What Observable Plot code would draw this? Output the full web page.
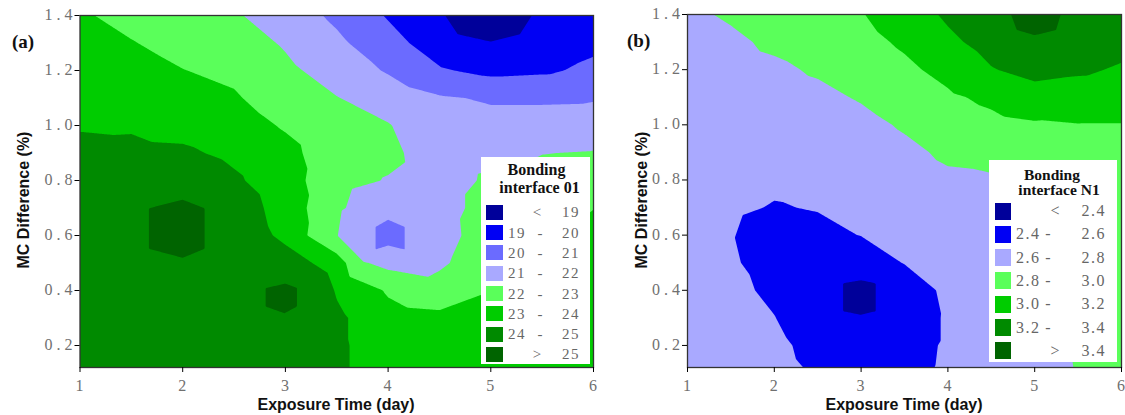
<!DOCTYPE html>
<html>
<head>
<meta charset="utf-8">
<script src="https://cdn.jsdelivr.net/npm/d3@7"></script>
<script src="https://cdn.jsdelivr.net/npm/@observablehq/plot@0.6"></script>
<style>
  html, body { margin: 0; padding: 0; background: #fff; }
  body { width: 1125px; height: 415px; position: relative; overflow: hidden; font-family: "Liberation Sans", Arial, sans-serif; }
  .panel { position: absolute; top: 0; }
  .ytitle { position: absolute; width: 220px; height: 20px; line-height: 20px; text-align: center; font-weight: bold; font-size: 16px; color: #111; transform: rotate(-90deg); }
  .xtitle { position: absolute; width: 260px; height: 18px; line-height: 18px; text-align: center; font-weight: bold; font-size: 16px; color: #111; }
  .plabel { position: absolute; font-family: "Liberation Serif", serif; font-weight: bold; font-size: 19px; color: #111; }
  .tick { position: absolute; height: 18px; line-height: 18px; font-family: "Liberation Serif", serif; font-size: 16px; color: #707070; white-space: nowrap; }
  .legend { position: absolute; background: #fff; font-family: "Liberation Serif", serif; }
  .legend .t { position: absolute; left: 0; width: 100%; text-align: center; font-weight: bold; color: #111; }
  .legend .sw { position: absolute; }
  .legend .v { position: absolute; color: #666; line-height: 18px; white-space: nowrap; }
</style>
</head>
<body>
<div id="pa" class="panel" style="left:0px"></div>
<div id="pb" class="panel" style="left:600px"></div>
<script>
// ---------- data ----------
const exposureDays = [1, 1.5, 2, 2.5, 3, 3.5, 4, 4.5, 5, 5.5, 6];
const mcDifference = [1.4, 1.3, 1.2, 1.1, 1.0, 0.9, 0.8, 0.7, 0.6, 0.5, 0.4, 0.3, 0.2, 0.1];

// Bonding interface 01 (rows follow mcDifference, columns follow exposureDays)
const strength01 = [
  [23.1, 22.75, 22.45, 22.1, 21.55, 20.8, 19.92, 19.05, 18.6, 19.1, 19.4],
  [23.3, 23.04, 22.72, 22.45, 21.9, 21.2, 20.35, 19.5, 19.02, 19.5, 19.8],
  [23.5, 23.33, 23.02, 22.8, 22.2, 21.6, 20.9, 20.1, 19.75, 19.85, 20.2],
  [23.72, 23.62, 23.35, 23.1, 22.5, 22.03, 21.6, 21.1, 20.9, 20.9, 20.92],
  [23.95, 23.91, 23.7, 23.45, 22.9, 22.3, 22.05, 21.4, 21.3, 21.3, 21.5],
  [24.17, 24.2, 24.15, 23.8, 23.3, 22.4, 22.2, 21.55, 21.7, 21.98, 22.05],
  [24.3, 24.5, 24.65, 24.15, 23.45, 22.3, 21.95, 21.6, 22.15, 22.3, 22.5],
  [24.4, 24.8, 25.15, 24.55, 23.6, 22.15, 21.3, 21.6, 22.4, 22.55, 22.98],
  [24.45, 24.97, 25.3, 24.86, 23.72, 22.03, 20.6, 21.55, 22.6, 22.85, 23.3],
  [24.45, 24.75, 24.93, 24.8, 24.55, 23.5, 21.7, 21.8, 22.8, 23.1, 23.45],
  [24.4, 24.55, 24.7, 24.75, 25.15, 23.9, 22.9, 22.5, 22.98, 23.3, 23.55],
  [24.35, 24.45, 24.6, 24.7, 24.94, 24.2, 23.3, 23.2, 23.3, 23.45, 23.6],
  [24.3, 24.4, 24.5, 24.6, 24.55, 24.2, 23.4, 23.5, 23.5, 23.55, 23.65],
  [24.3, 24.35, 24.45, 24.55, 24.45, 24.2, 23.4, 23.6, 23.6, 23.6, 23.65]
];
// extra samples read around the small islands: [day, MC difference, value]
const extra01 = [
  [2.96, 0.375, 25.2], [2.73, 0.375, 24.99], [3.19, 0.375, 24.99],
  [2.80, 0.41, 24.99], [3.12, 0.41, 24.99], [2.80, 0.34, 24.99], [3.12, 0.34, 24.99],
  [3.25, 0.4, 24.9], [3.75, 0.5, 22.1],
  [1.66, 0.70, 24.99], [2.22, 0.70, 24.99], [1.66, 0.55, 24.99], [2.22, 0.55, 24.99],
  [3.875, 0.632, 21.01], [4.165, 0.632, 21.01], [3.875, 0.548, 21.01], [4.165, 0.548, 21.01],
  [4.67, 1.33, 19.01], [5.29, 1.33, 19.01]
];

// Bonding interface N1
const strengthN1 = [
  [2.77, 2.82, 2.86, 2.92, 2.99, 3.1, 3.23, 3.35, 3.46, 3.36, 3.3],
  [2.75, 2.77, 2.83, 2.87, 2.94, 3.03, 3.16, 3.27, 3.38, 3.31, 3.26],
  [2.73, 2.74, 2.77, 2.82, 2.88, 2.96, 3.06, 3.19, 3.26, 3.23, 3.18],
  [2.72, 2.72, 2.73, 2.76, 2.815, 2.89, 2.97, 3.04, 3.12, 3.1, 3.09],
  [2.71, 2.70, 2.70, 2.72, 2.75, 2.82, 2.90, 2.95, 2.98, 2.995, 2.995],
  [2.70, 2.68, 2.67, 2.68, 2.70, 2.76, 2.83, 2.86, 2.94, 2.96, 2.97],
  [2.69, 2.66, 2.63, 2.64, 2.66, 2.72, 2.77, 2.78, 2.91, 2.94, 2.95],
  [2.68, 2.63, 2.59, 2.61, 2.63, 2.68, 2.73, 2.74, 2.88, 2.92, 2.93],
  [2.67, 2.61, 2.52, 2.55, 2.605, 2.645, 2.70, 2.71, 2.85, 2.9, 2.92],
  [2.66, 2.63, 2.50, 2.48, 2.47, 2.61, 2.68, 2.69, 2.815, 2.88, 2.91],
  [2.66, 2.65, 2.56, 2.44, 2.36, 2.44, 2.66, 2.68, 2.78, 2.86, 2.9],
  [2.66, 2.65, 2.605, 2.47, 2.41, 2.45, 2.63, 2.67, 2.75, 2.84, 2.89],
  [2.66, 2.66, 2.65, 2.53, 2.47, 2.50, 2.63, 2.67, 2.72, 2.82, 2.88],
  [2.66, 2.66, 2.67, 2.58, 2.52, 2.53, 2.64, 2.67, 2.70, 2.81, 2.87]
];
const extraN1 = [
  [2.98, 0.375, 2.34], [2.80, 0.425, 2.399], [3.16, 0.425, 2.399], [2.80, 0.325, 2.399], [3.16, 0.325, 2.399],
  [4.79, 1.343, 3.399], [5.25, 1.343, 3.399]
];

const levels01 = [19, 20, 21, 22, 23, 24, 25];
const colors01 = ["#00009a", "#0000f4", "#6b6bff", "#a9a9ff", "#5aff5a", "#00cc00", "#008a00", "#006400"];
const legend01 = [["", "<", "19"], ["19", "-", "20"], ["20", "-", "21"], ["21", "-", "22"], ["22", "-", "23"], ["23", "-", "24"], ["24", "-", "25"], ["", ">", "25"]];

const levelsN1 = [2.4, 2.6, 2.8, 3.0, 3.2, 3.4];
const colorsN1 = ["#00009a", "#0000f4", "#a9a9ff", "#5aff5a", "#00cc00", "#008a00", "#006400"];
const legendN1 = [["", "<", "2.4"], ["2.4", "-", "2.6"], ["2.6", "-", "2.8"], ["2.8", "-", "3.0"], ["3.0", "-", "3.2"], ["3.2", "-", "3.4"], ["", ">", "3.4"]];

const xTicks = [1, 2, 3, 4, 5, 6];
const yTicks = [0.2, 0.4, 0.6, 0.8, 1.0, 1.2, 1.4];
const titleX = "Exposure Time (day)";
const titleY = "MC Difference (%)";

// ---------- build ----------
function buildPoints(grid, extra) {
  const pts = [];
  mcDifference.forEach((y, r) => exposureDays.forEach((x, c) => pts.push({x, y, v: grid[r][c]})));
  extra.forEach(([x, y, v]) => pts.push({x, y, v}));
  return pts;
}

function addDiv(cls, style, text) {
  const d = document.createElement("div");
  d.className = cls;
  d.setAttribute("style", style);
  d.textContent = text;
  document.body.append(d);
  return d;
}

const TICK = 5;
function panel(host, left, points, levels, colors, width, ml, mr, mt, mb) {
  const svg = Plot.plot({
    width, height: 415,
    marginLeft: ml, marginRight: mr, marginTop: mt, marginBottom: mb,
    x: {domain: [1, 6]},
    y: {domain: [0.12, 1.4]},
    color: {type: "threshold", domain: levels, range: colors},
    marks: [
      Plot.frame({fill: colors[0], stroke: "none"}),
      Plot.contour(points, {x: "x", y: "y", fill: "v", thresholds: levels, interpolate: "barycentric", pixelSize: 1, stroke: "none"}),
      Plot.frame({stroke: "#333", strokeWidth: 1.3}),
      Plot.axisX({ticks: xTicks, tickSize: TICK, label: null, tickFormat: () => ""}),
      Plot.axisY({ticks: yTicks, tickSize: TICK, label: null, tickFormat: () => ""})
    ]
  });
  document.getElementById(host).append(svg);
  // tick labels placed with the plot's own scales
  const sx = svg.scale("x"), sy = svg.scale("y");
  const bottom = 415 - mb;
  xTicks.forEach(v => addDiv("tick", `left:${left + sx.apply(v) - 20}px;top:${bottom + 10}px;width:40px;text-align:center;`, String(v)));
  yTicks.forEach(v => addDiv("tick", `left:${left + ml - TICK + 2 - 60}px;top:${sy.apply(v) - 9}px;width:60px;text-align:right;letter-spacing:4px;`, v.toFixed(1)));
}

panel("pa", 0, buildPoints(strength01, extra01), levels01, colors01, 600, 79.5, 7, 15, 48);
panel("pb", 600, buildPoints(strengthN1, extraN1), levelsN1, colorsN1, 525, 87, 4, 14, 48);

// axis titles and panel labels
addDiv("ytitle", "left:-86px;top:190px;", titleY);
addDiv("ytitle", "left:532px;top:190px;", titleY);
addDiv("xtitle", "left:206px;top:396px;", titleX);
addDiv("xtitle", "left:774px;top:396px;", titleX);
addDiv("plabel", "left:12px;top:31px;", "(a)");
addDiv("plabel", "left:627px;top:30px;", "(b)");

function legend(box, title, labels, colors, g) {
  const L = document.createElement("div");
  L.className = "legend";
  L.style.cssText = `left:${box[0]}px;top:${box[1]}px;width:${box[2]}px;height:${box[3]}px;`;
  title.forEach((t, i) => {
    const e = document.createElement("div");
    e.className = "t";
    e.style.cssText = `top:${g.titleTop + i * g.titleGap}px;font-size:${g.titleSize}px;line-height:${g.titleGap}px;left:${g.titleShift[i]}px;`;
    e.textContent = t;
    L.append(e);
  });
  labels.forEach((lab, i) => {
    const cy = g.row0 + i * g.pitch;
    const sw = document.createElement("div");
    sw.className = "sw";
    sw.style.cssText = `left:${g.swX}px;top:${cy - g.swH / 2}px;width:${g.swW}px;height:${g.swH}px;background:${colors[i]};`;
    L.append(sw);
    const mk = (txt, style) => {
      const e = document.createElement("div");
      e.className = "v";
      e.style.cssText = `top:${cy - 9}px;font-size:${g.fs}px;letter-spacing:${g.ls}px;` + style;
      e.textContent = txt;
      L.append(e);
    };
    if (lab[0]) mk(lab[0], `left:${g.lowX}px;`);
    const midX = lab[0] ? g.dashX : g.signX;
    mk(lab[1], `left:${midX - 10}px;width:20px;text-align:center;letter-spacing:0px;`);
    mk(lab[2], `right:${box[2] - g.upR}px;text-align:right;`);
  });
  document.body.append(L);
}

legend([481, 157, 109, 207], ["Bonding", "interface 01"], legend01, colors01,
  {titleTop: 4, titleGap: 18, titleSize: 16, titleShift: [1, 4], row0: 55.3, pitch: 20.3, swX: 5, swW: 17, swH: 15, lowX: 27, dashX: 59, signX: 56, upR: 99, fs: 15, ls: 1.5});
legend([989, 160, 128, 202], ["Bonding", "interface N1"], legendN1, colorsN1,
  {titleTop: 7, titleGap: 15, titleSize: 15.5, titleShift: [-1, 6], row0: 51, pitch: 23.3, swX: 6, swW: 16, swH: 17, lowX: 27, dashX: 59, signX: 66, upR: 117, fs: 16, ls: 1.5});
</script>
</body>
</html>
